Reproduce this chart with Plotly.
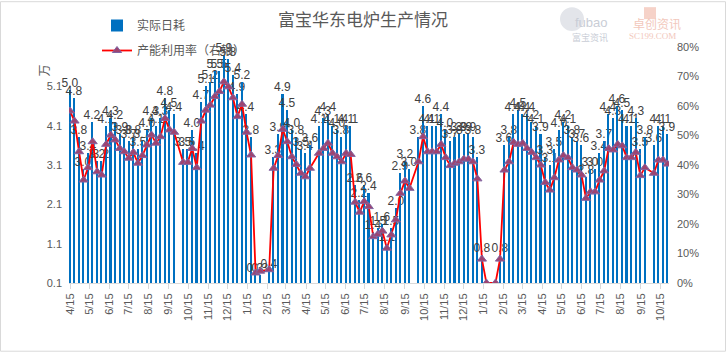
import pandas as pd
import plotly.graph_objects as go

# ---------------- data ----------------
start_date = "2021-04-15"          # first weekly observation
n_weeks = 133

# 实际日耗 (万吨), weekly; None = no data that week
daily_use = [
    5.0, 4.8, 3.8, 3.0, 3.4, 4.2, 3.2, 3.2, 4.1, 4.3, 4.2, 3.9, 3.8, 3.7, 3.8, 3.5,
    3.7, 4.0, 4.3, 4.1, 4.3, 4.8, 4.5, 4.4, None, 3.5, 3.5, 4.0, 3.4, 4.7, 5.1, 5.2,
    5.5, 5.5, 5.9, 5.8, 5.4, 4.9, 5.2, 4.4, 3.8, 0.3, 0.3, None, 0.4,
    3.3, 3.9, 4.9, 4.5, 4.0, 3.8, 3.5, 3.4, 3.6, None, 4.1, 4.3, 4.4, 4.1, 4.0, 3.8,
    4.1, 4.1, 2.6, 2.2, 2.6, 2.4, 1.4, 1.5, 1.6, 1.1, 1.5, 2.0, 2.9, 3.2, 3.0, None,
    3.8, 4.6, 4.1, 4.1, 4.1, 4.4, 4.0, 3.7, 3.8, 3.9, 3.9, 3.9, 3.8, 3.3,
    0.8, 0.0, None, 0.0, 0.8, 3.6, 3.8, 4.4, 4.5, 4.4, 4.4, 4.2, 4.1, 3.9, 3.3, 3.1,
    3.5, 4.0, 4.2, 4.1, 3.8, 3.7, 3.6, 2.8, 3.0, 3.0, 3.4, 3.7, 4.4, 4.3, 4.6, 4.5,
    4.1, 4.1, 4.3, 3.5, 3.8, None, 3.6, 4.1, 4.1, 3.9,
]

# 产能利用率 (%), weekly
utilization = [
    58.3, 54.9, 44.5, 34.9, 39.1, 47.9, 37.7, 36.6, 47.0, 50.2, 48.5, 45.6, 44.5, 42.3, 44.3, 40.6,
    43.2, 46.8, 50.2, 47.4, 49.6, 55.8, 51.9, 51.1, None, 40.9, 40.9, 45.6, 39.1, 54.9, 58.6, 60.3,
    63.2, 64.9, 68.2, 66.5, 62.8, 56.4, 60.6, 51.1, 43.4, 3.4, 4.0, None, 4.5,
    38.9, 43.2, 52.1, 47.9, 42.8, 40.2, 37.2, 36.0, 38.9, None, 44.0, 45.6, 47.4, 44.0, 42.8, 41.1,
    44.0, 43.6, 27.4, 24.0, 27.6, 25.9, 15.7, 16.5, 17.6, 11.8, 16.3, 21.4, 30.4, 34.6, 32.1, None,
    41.1, 49.6, 44.5, 44.5, 44.5, 47.0, 42.5, 39.8, 40.6, 41.1, 42.0, 42.0, 41.1, 35.3,
    8.1, 0.0, None, 0.0, 8.1, 38.3, 41.1, 47.7, 47.0, 47.4, 45.6, 44.3, 42.5, 40.0, 34.1, 31.5,
    35.7, 41.7, 43.2, 42.5, 39.1, 38.3, 36.6, 28.7, 30.9, 30.9, 34.9, 38.0, 45.6, 45.1, 47.0, 46.5,
    42.5, 42.5, 44.3, 36.4, 39.1, None, 37.2, 41.7, 41.7, 40.3,
]

left_ticks = [0.1, 1.1, 2.1, 3.1, 4.1, 5.1]
right_ticks = [0, 10, 20, 30, 40, 50, 60, 70, 80]
right_labels = [f"{v}%" for v in right_ticks]

dates = pd.date_range(start_date, periods=n_weeks, freq="7D")
tick_dates = pd.date_range("2021-04-01", "2023-10-01", freq="MS") + pd.Timedelta(days=14)
tick_labels = [f"{d.month}/15" for d in tick_dates]

bar_text = ["" if (v is None or v == 0) else f"{v:.1f}" for v in daily_use]

# ---------------- style ----------------
W, H = 726, 352
ML, MR, MT, MB = 69, 57, 46, 69
PW, PH = W - ML - MR, H - MT - MB
FONT = "Liberation Sans, Noto Sans CJK SC, sans-serif"
CJK = "Noto Sans CJK SC, sans-serif"
GRAY = "#595959"

fig = go.Figure()

fig.add_trace(go.Bar(
    x=dates, y=daily_use, name="实际日耗",
    marker=dict(color="#0070C0", line=dict(width=0)),
    width=2.4 * 86400000,
    text=bar_text, textposition="outside", textangle=0,
    constraintext="none", cliponaxis=False,
    textfont=dict(size=12, color="#404040", family=FONT),
    legendgroup="a",
))

fig.add_trace(go.Scatter(
    x=dates, y=utilization, name="产能利用率（右轴）", yaxis="y2",
    mode="lines+markers", connectgaps=True,
    line=dict(color="#FF0000", width=1.8),
    marker=dict(symbol="triangle-up", size=8, color="#9E4470",
                line=dict(color="#8064A2", width=1)),
    legendgroup="b",
))

fig.update_layout(
    width=W, height=H,
    margin=dict(l=ML, r=MR, t=MT, b=MB, pad=0),
    paper_bgcolor="white", plot_bgcolor="white",
    font=dict(family=FONT, size=11, color=GRAY),
    title=dict(text="富宝华东电炉生产情况", x=0.5, xanchor="center",
               y=1 - 20 / H, yanchor="middle",
               font=dict(family=CJK, size=17, color=GRAY)),
    showlegend=True,
    legend=dict(x=(97 - ML) / PW, xanchor="left", y=1 + (MT - 11) / PH, yanchor="top",
                bgcolor="rgba(0,0,0,0)", font=dict(family=CJK, size=12, color=GRAY),
                traceorder="grouped", tracegroupgap=6, itemwidth=30),
    bargap=0,
    xaxis=dict(type="date", range=["2021-04-13 11:00", "2023-10-28 08:00"],
               tickvals=tick_dates, ticktext=tick_labels, tickangle=-90,
               showgrid=False, showline=True, linecolor="#D9D9D9", linewidth=1,
               ticks="outside", ticklen=5, tickcolor="#D9D9D9",
               tickfont=dict(size=11, color=GRAY), zeroline=False),
    yaxis=dict(range=[0.1, 6.1], tickvals=left_ticks, ticktext=[f"{v:.1f}" for v in left_ticks],
               showgrid=False, showline=False, zeroline=False, ticks="",
               tickfont=dict(size=11, color=GRAY), ticklabelstandoff=6),
    yaxis2=dict(range=[0, 80], tickvals=right_ticks, ticktext=right_labels,
                overlaying="y", side="right",
                showgrid=False, showline=False, zeroline=False, ticks="",
                tickfont=dict(size=11, color=GRAY), ticklabelstandoff=7),
)

# unit label of the left axis
fig.add_annotation(text="万", xref="paper", yref="paper",
                   x=(33 - ML) / PW, y=1 + (MT - 62) / PH, showarrow=False, textangle=-90,
                   font=dict(family=CJK, size=12, color=GRAY))

# faint watermark logos (top right)
fig.add_annotation(text="fubao", xref="paper", yref="paper", x=(610 - ML) / PW, y=1 + (MT - 12) / PH,
                   showarrow=False, font=dict(family=FONT, size=13, color="#C9CDD6"))
fig.add_annotation(text="富宝资讯", xref="paper", yref="paper", x=(610 - ML) / PW, y=1 + (MT - 28) / PH,
                   showarrow=False, font=dict(family=CJK, size=9, color="#C9CDD6"))
fig.add_annotation(text="卓创资讯", xref="paper", yref="paper", x=(683 - ML) / PW, y=1 + (MT - 12) / PH,
                   showarrow=False, font=dict(family=CJK, size=12, color="#F2C8BC"))
fig.add_annotation(text="SC199.COM", xref="paper", yref="paper", x=(678 - ML) / PW, y=1 + (MT - 28) / PH,
                   showarrow=False, font=dict(family="Liberation Serif, serif", size=9, color="#F2C8BC"))
fig.add_shape(type="circle", xref="paper", yref="paper",
              x0=(560 - ML) / PW, x1=(584 - ML) / PW, y0=1 + (MT - 30) / PH, y1=1 + (MT - 6) / PH,
              line=dict(width=0), fillcolor="#E3E5EA", layer="below")
fig.add_shape(type="rect", xref="paper", yref="paper",
              x0=(644 - ML) / PW, x1=(656 - ML) / PW, y0=1 + (MT - 18) / PH, y1=1 + (MT - 6) / PH,
              line=dict(width=0), fillcolor="#F6D2C8", layer="below")

# chart-area border
fig.add_shape(type="rect", xref="paper", yref="paper",
              x0=(0.5 - ML) / PW, x1=(W - 0.5 - ML) / PW, y0=-(MB - 0.5) / PH, y1=1 + (MT - 0.5) / PH,
              line=dict(color="#D9D9D9", width=1), fillcolor="rgba(0,0,0,0)")

fig.write_html("out.html")
